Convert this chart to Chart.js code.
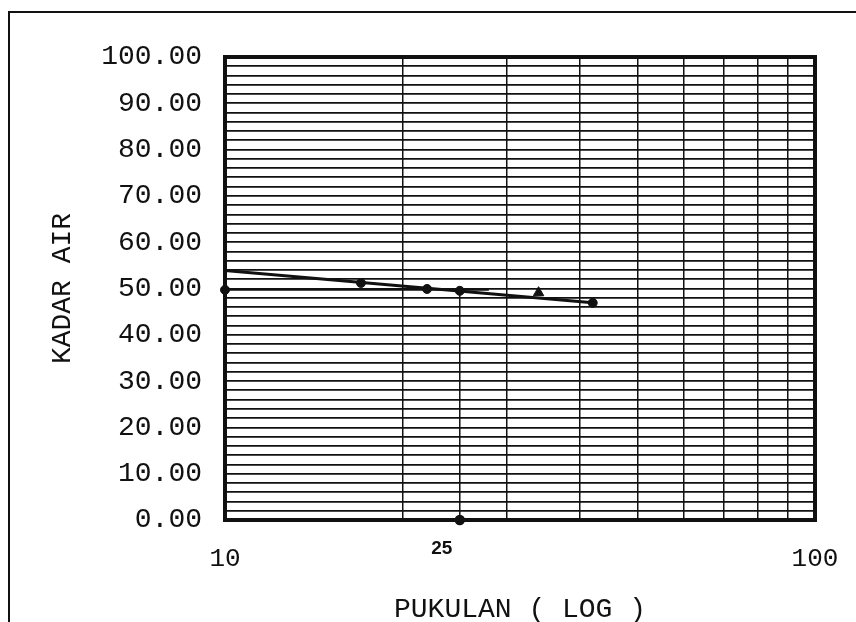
<!DOCTYPE html>
<html>
<head>
<meta charset="utf-8">
<script src="https://cdn.jsdelivr.net/npm/chart.js@4"></script>
<style>
  html,body{margin:0;padding:0;background:#fff;}
  #wrap{position:relative;width:856px;height:622px;overflow:hidden;}
  #frame{position:absolute;left:8px;top:11px;width:900px;height:700px;border-left:2px solid #111;border-top:2px solid #111;pointer-events:none;}
  canvas{position:absolute;left:0;top:0;}
</style>
</head>
<body>
<div id="wrap">
<canvas id="c" width="856" height="622"></canvas>
<div id="frame"></div>
</div>
<script>
// ---- data ----
const blows = [10, 17, 22, 25, 42];            // PUKULAN
const moisture = [49.7, 51.2, 49.9, 49.5, 46.9]; // KADAR AIR
const triBlows = [34];
const triMoisture = [49.1];
const fitBlows = [10, 42];
const fitMoisture = [53.9, 46.9];
const refVBlows = [25, 25];
const refVMoisture = [0, 49.5];
const refHBlows = [10, 28];
const refHMoisture = [49.8, 49.8];
const xTickValues = [10, 20, 25, 30, 40, 50, 60, 70, 80, 90, 100];
const xTickLabels = ['10', '', '', '', '', '', '', '', '', '', '100'];
const markerLabel = '25';
const yMin = 0, yMax = 100, yStep = 2, yLabelEvery = 10;

const zip = (xs, ys) => xs.map((x, i) => ({x, y: ys[i]}));
const MONO = "'Liberation Mono', 'DejaVu Sans Mono', monospace";
const INK = '#111';

const extras = {
  id: 'extras',
  afterDraw(chart) {
    const {ctx, chartArea: a, scales: {x}} = chart;
    ctx.save();
    ctx.strokeStyle = INK;
    ctx.lineWidth = 4;
    ctx.strokeRect(a.left, a.top, a.right - a.left, a.bottom - a.top);
    ctx.fillStyle = INK;
    ctx.font = "bold 19px 'Liberation Sans', Arial, sans-serif";
    ctx.textAlign = 'center';
    ctx.textBaseline = 'middle';
    ctx.fillText(markerLabel, x.getPixelForValue(25) - 18, 549);
    ctx.restore();
  }
};

new Chart(document.getElementById('c'), {
  type: 'scatter',
  data: {
    datasets: [
      { data: zip(refHBlows, refHMoisture), showLine: true, borderColor: INK, borderWidth: 2.5, pointRadius: 0, clip: false },
      { data: zip(refVBlows, refVMoisture), showLine: true, borderColor: INK, borderWidth: 1.5, pointRadius: [4.5, 0], pointBackgroundColor: INK, pointBorderColor: INK, clip: false },
      { data: zip(fitBlows, fitMoisture), showLine: true, borderColor: INK, borderWidth: 3, pointRadius: 0, clip: false },
      { data: zip(blows, moisture), showLine: false, pointRadius: 4.5, pointBackgroundColor: INK, pointBorderColor: INK, clip: false },
      { data: zip(triBlows, triMoisture), showLine: false, pointStyle: 'triangle', pointRadius: 6, pointBackgroundColor: INK, pointBorderColor: INK, clip: false }
    ]
  },
  options: {
    responsive: false,
    animation: false,
    devicePixelRatio: 1,
    layout: { padding: { top: 57, right: 41, left: 0, bottom: 0 } },
    plugins: { legend: { display: false }, tooltip: { enabled: false } },
    scales: {
      x: {
        type: 'logarithmic',
        min: 10, max: 100,
        afterBuildTicks: s => { s.ticks = xTickValues.map(v => ({value: v})); },
        afterFit: s => { s.height = 102; s.paddingRight = 0; s.paddingLeft = 0; },
        grid: {
          drawTicks: false, tickLength: 0,
          color: c => (c.tick && c.tick.value === 25) ? 'rgba(0,0,0,0)' : INK,
          lineWidth: 1.5
        },
        border: { display: true, color: INK, width: 4 },
        ticks: {
          autoSkip: false, maxRotation: 0, padding: 24,
          color: INK, font: { family: MONO, size: 26 },
          callback: (v, i) => xTickLabels[xTickValues.indexOf(v)] ?? ''
        },
        title: {
          display: true, text: 'PUKULAN ( LOG )', color: INK,
          font: { family: MONO, size: 28, lineHeight: 0.86 }, padding: 0
        }
      },
      y: {
        min: yMin, max: yMax,
        afterFit: s => { s.width = 225; s.paddingTop = 0; s.paddingBottom = 0; },
        grid: { drawTicks: false, tickLength: 0, color: INK, lineWidth: 1.8 },
        border: { display: true, color: INK, width: 4 },
        ticks: {
          stepSize: yStep, autoSkip: false, padding: 23,
          color: INK, font: { family: MONO, size: 28 },
          callback: v => (Math.round(v) % yLabelEvery === 0) ? Number(v).toFixed(2) : ''
        },
        title: {
          display: true, text: 'KADAR AIR', color: INK,
          font: { family: MONO, size: 28, lineHeight: 1 }, padding: { top: 49, bottom: 0 }
        }
      }
    }
  },
  plugins: [extras]
});
</script>
</body>
</html>
